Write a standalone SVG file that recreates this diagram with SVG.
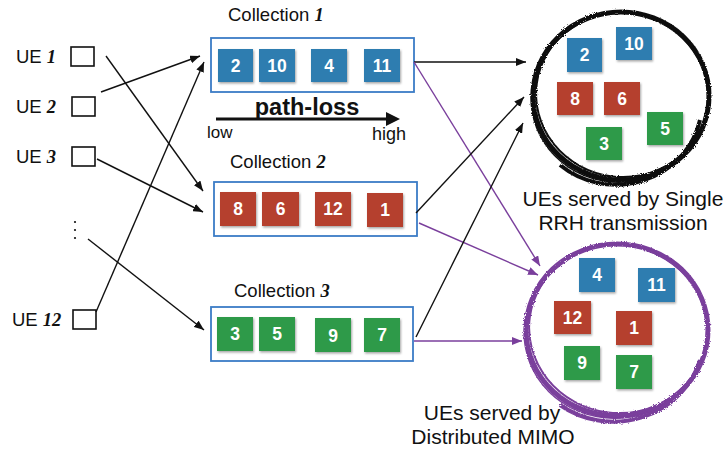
<svg xmlns="http://www.w3.org/2000/svg" width="725" height="452" viewBox="0 0 725 452">
<defs>
<style>
.lbl{font-family:"Liberation Sans",Arial,sans-serif;font-size:18.5px;fill:#111}
.big{font-family:"Liberation Sans",Arial,sans-serif;font-size:21px;fill:#111;text-anchor:middle}
.it{font-family:"Liberation Serif","Times New Roman",serif;font-style:italic;font-weight:bold}
.ue{fill:#fff;stroke:#111;stroke-width:1.6}
.coll{fill:#fff;stroke:#3b7cc6;stroke-width:1.8}
.num{font-family:"Liberation Sans",Arial,sans-serif;font-size:17.5px;font-weight:bold;fill:#fff;text-anchor:middle}
.b{fill:#2f7db0}
.r{fill:#b5402f}
.g{fill:#2e9a48}
.k{stroke:#111;stroke-width:1.4;fill:none}
.p{stroke:#7a3f9c;stroke-width:1.4;fill:none}
</style>
<marker id="ak" viewBox="0 0 10 8" refX="10" refY="4" markerWidth="10" markerHeight="8" markerUnits="userSpaceOnUse" orient="auto"><path d="M0,0 L10,4 L0,8 z" fill="#111"/></marker>
<marker id="ap" viewBox="0 0 10 8" refX="10" refY="4" markerWidth="10" markerHeight="8" markerUnits="userSpaceOnUse" orient="auto"><path d="M0,0 L10,4 L0,8 z" fill="#7a3f9c"/></marker>
<filter id="sh" x="-20%" y="-20%" width="150%" height="150%"><feDropShadow dx="1" dy="1.5" stdDeviation="1" flood-color="#000" flood-opacity="0.35"/></filter>
<filter id="rough" x="-10%" y="-10%" width="120%" height="120%"><feTurbulence type="fractalNoise" baseFrequency="0.9" numOctaves="2" seed="3" result="n"/><feDisplacementMap in="SourceGraphic" in2="n" scale="3"/></filter>
</defs>

<g id="ue1"><text class="lbl" x="16" y="63">UE <tspan class="it">1</tspan></text><rect class="ue" x="71" y="47" width="23" height="19"/></g>
<g id="ue2"><text class="lbl" x="16" y="113">UE <tspan class="it">2</tspan></text><rect class="ue" x="72" y="97" width="23" height="19"/></g>
<g id="ue3"><text class="lbl" x="16" y="163">UE <tspan class="it">3</tspan></text><rect class="ue" x="72" y="147" width="23" height="19"/></g>
<g id="dots"><circle cx="75" cy="222" r="1.1" fill="#111"/><circle cx="75" cy="230" r="1.1" fill="#111"/><circle cx="75" cy="238" r="1.1" fill="#111"/></g>
<g id="ue12"><text class="lbl" x="12" y="326">UE <tspan class="it">12</tspan></text><rect class="ue" x="73" y="310" width="23" height="19"/></g>

<g id="collection1">
<text class="lbl" x="228" y="21">Collection <tspan class="it">1</tspan></text>
<rect class="coll" x="211" y="38" width="203" height="54"/>
<g filter="url(#sh)"><rect class="b" x="218" y="49" width="35" height="33"/><rect class="b" x="259" y="49" width="36" height="33"/><rect class="b" x="311" y="49" width="36" height="33"/><rect class="b" x="364" y="49" width="36" height="33"/></g>
<text class="num" x="235.5" y="72">2</text><text class="num" x="277" y="72">10</text><text class="num" x="329" y="72">4</text><text class="num" x="382" y="72">11</text>
</g>

<g id="pathloss">
<text x="307" y="115" text-anchor="middle" font-family="Liberation Sans,Arial,sans-serif" font-size="23.5" font-weight="bold" fill="#111">path-loss</text>
<line x1="216" y1="119" x2="388" y2="119" stroke="#111" stroke-width="3"/>
<path d="M386,112 L400,119 L386,126 z" fill="#111"/>
<text x="207" y="138" font-family="Liberation Sans,Arial,sans-serif" font-size="17" fill="#111">low</text>
<text x="372" y="140" font-family="Liberation Sans,Arial,sans-serif" font-size="18" fill="#111">high</text>
</g>

<g id="collection2">
<text class="lbl" x="230" y="168">Collection <tspan class="it">2</tspan></text>
<rect class="coll" x="214" y="182" width="203" height="54"/>
<g filter="url(#sh)"><rect class="r" x="220" y="192" width="36" height="34"/><rect class="r" x="262" y="192" width="37" height="34"/><rect class="r" x="315" y="192" width="36" height="34"/><rect class="r" x="367" y="193" width="36" height="34"/></g>
<text class="num" x="238" y="215">8</text><text class="num" x="280.5" y="215">6</text><text class="num" x="333" y="215">12</text><text class="num" x="385" y="216">1</text>
</g>

<g id="collection3">
<text class="lbl" x="234" y="297">Collection <tspan class="it">3</tspan></text>
<rect class="coll" x="211" y="307" width="202" height="54"/>
<g filter="url(#sh)"><rect class="g" x="217" y="317" width="36" height="34"/><rect class="g" x="259" y="317" width="36" height="34"/><rect class="g" x="315" y="318" width="36" height="34"/><rect class="g" x="364" y="318" width="36" height="34"/></g>
<text class="num" x="235" y="340">3</text><text class="num" x="277" y="340">5</text><text class="num" x="333" y="342">9</text><text class="num" x="382" y="341">7</text>
</g>

<g id="single">
<g fill="none" stroke="#111" filter="url(#rough)">
<ellipse cx="621" cy="96" rx="88" ry="84" stroke-width="5"/>
<ellipse cx="622" cy="95" rx="86" ry="82" stroke-width="2" transform="rotate(8 622 95)"/>
<ellipse cx="620" cy="97" rx="89" ry="85" stroke-width="1.5" transform="rotate(-10 620 97)"/>
<path d="M700,120 A86 82 0 0 1 560 165" stroke-width="4"/>
</g>
<g filter="url(#sh)"><rect class="b" x="567" y="38" width="35" height="34"/><rect class="b" x="616" y="27" width="36" height="33"/><rect class="r" x="557" y="82" width="36" height="33"/><rect class="r" x="604" y="82" width="36" height="33"/><rect class="g" x="586" y="127" width="36" height="33"/><rect class="g" x="647" y="112" width="36" height="33"/></g>
<text class="num" x="584.5" y="61">2</text><text class="num" x="634" y="50">10</text><text class="num" x="575" y="105">8</text><text class="num" x="622" y="105">6</text><text class="num" x="604" y="150">3</text><text class="num" x="665" y="135">5</text>
<text class="big" x="623" y="206">UEs served by Single</text>
<text class="big" x="623" y="230">RRH transmission</text>
</g>

<g id="dmimo">
<g fill="none" stroke="#7a3f9c" filter="url(#rough)">
<ellipse cx="617" cy="330" rx="91" ry="86" stroke-width="5"/>
<ellipse cx="618" cy="329" rx="89" ry="84" stroke-width="2" transform="rotate(8 618 329)"/>
<ellipse cx="616" cy="331" rx="92" ry="87" stroke-width="1.5" transform="rotate(-10 616 331)"/>
<path d="M700,360 A90 85 0 0 1 560 405" stroke-width="4"/>
</g>
<g filter="url(#sh)"><rect class="b" x="579" y="258" width="36" height="34"/><rect class="b" x="638" y="268" width="37" height="34"/><rect class="r" x="554" y="301" width="37" height="33"/><rect class="r" x="616" y="311" width="36" height="34"/><rect class="g" x="564" y="346" width="36" height="34"/><rect class="g" x="616" y="355" width="36" height="34"/></g>
<text class="num" x="597" y="281">4</text><text class="num" x="656.5" y="291">11</text><text class="num" x="572.5" y="324">12</text><text class="num" x="634" y="334">1</text><text class="num" x="582" y="369">9</text><text class="num" x="634" y="378">7</text>
<text class="big" x="492" y="420">UEs served by</text>
<text class="big" x="493" y="444">Distributed MIMO</text>
</g>

<g id="connectors">
<line class="k" x1="106" y1="56" x2="203" y2="191" marker-end="url(#ak)"/>
<line class="k" x1="101" y1="92" x2="200" y2="56" marker-end="url(#ak)"/>
<line class="k" x1="97" y1="159" x2="203" y2="212" marker-end="url(#ak)"/>
<line class="k" x1="96" y1="312" x2="204" y2="62" marker-end="url(#ak)"/>
<line class="k" x1="88" y1="239" x2="204" y2="330" marker-end="url(#ak)"/>
<line class="k" x1="414" y1="62" x2="526" y2="62" marker-end="url(#ak)"/>
<line class="p" x1="414" y1="62" x2="540" y2="266" marker-end="url(#ap)"/>
<line class="k" x1="416" y1="213" x2="524" y2="97" marker-end="url(#ak)"/>
<line class="p" x1="419" y1="223" x2="538" y2="275" marker-end="url(#ap)"/>
<line class="k" x1="416" y1="337" x2="523" y2="123" marker-end="url(#ak)"/>
<line class="p" x1="414" y1="341" x2="522" y2="341" marker-end="url(#ap)"/>
</g>
</svg>
